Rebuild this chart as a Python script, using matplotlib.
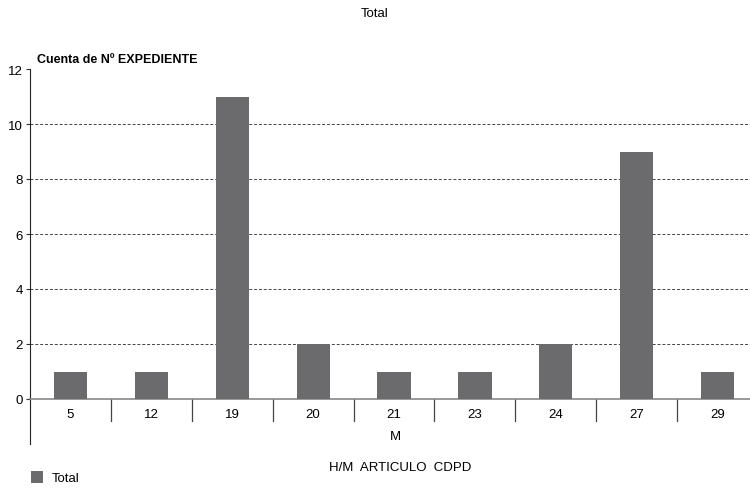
import matplotlib
matplotlib.use("Agg")
import matplotlib.pyplot as plt
from matplotlib.patches import Rectangle

categories = ["5", "12", "19", "20", "21", "23", "24", "27", "29"]
values = [1, 1, 11, 2, 1, 1, 2, 9, 1]
yticks = [0, 2, 4, 6, 8, 10, 12]

plt.rcParams['font.family'] = ['Liberation Sans', 'DejaVu Sans']
W, H = 750, 489
fig = plt.figure(figsize=(7.5, 4.89), dpi=100)

def fx(px):
    return px / W

def fy(py):
    return (H - py) / H

ax = fig.add_axes([fx(30), fy(400), fx(750) - fx(30), fy(70) - fy(400)])
x = list(range(len(categories)))
ax.bar(x, values, width=0.41, color="#6b6b6d", zorder=3)
ax.set_xlim(-0.5, 8.4)
ax.set_ylim(0, 12)
ax.set_yticks(yticks)
ax.set_yticklabels([str(t) for t in yticks], fontsize=9.5)
ax.tick_params(axis='y', length=3, width=0.8, pad=2, color="#333333")
ax.set_xticks([])
for s in ["top", "right"]:
    ax.spines[s].set_visible(False)
ax.spines["left"].set_color("#222222")
ax.spines["bottom"].set_color("#888888")
ax.spines["bottom"].set_linewidth(1.2)
for t in yticks[1:-1]:
    ax.axhline(t, color="#444444", linestyle=(0, (3, 2)), linewidth=0.7, zorder=1)

# extended left axis line
ax.plot([-0.5, -0.5], [0, -1.65], color="#222222", linewidth=0.8, clip_on=False)
# category separators and labels
for i, c in enumerate(categories):
    ax.text(i, -0.55, c, ha="center", va="center", fontsize=9.5)
    if i < len(categories) - 1:
        ax.plot([i + 0.5, i + 0.5], [0, -0.8], color="#444444", linewidth=0.9, clip_on=False)

fig.text(fx(395), fy(437), "M", ha="center", va="center", fontsize=9.5)
fig.text(fx(400), fy(468), "H/M  ARTICULO  CDPD", ha="center", va="center", fontsize=9.5)
fig.text(fx(375), fy(14), "Total", ha="center", va="center", fontsize=9.5)
fig.text(fx(37), fy(60), "Cuenta de Nº EXPEDIENTE", ha="left", va="center", fontsize=9, fontweight="bold")

fig.patches.append(Rectangle((fx(31), fy(484)), fx(12), 12 / H, transform=fig.transFigure,
                             facecolor="#6b6b6d", edgecolor="none"))
fig.text(fx(52), fy(479), "Total", ha="left", va="center", fontsize=9.5)

fig.savefig("out.png", dpi=100)
